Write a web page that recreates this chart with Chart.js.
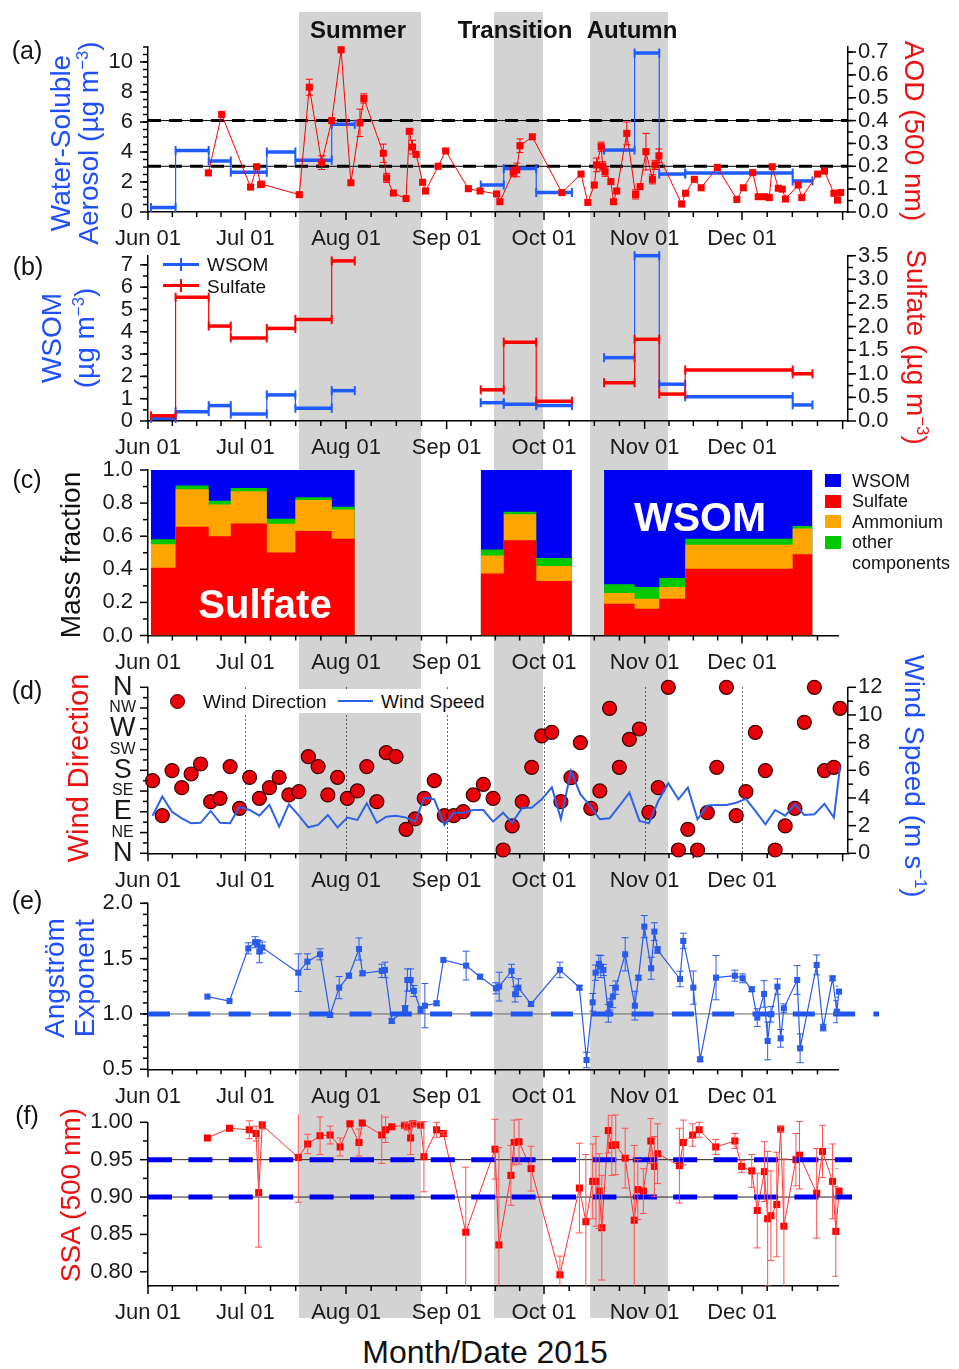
<!DOCTYPE html>
<html>
<head>
<meta charset="utf-8">
<script src="https://cdn.jsdelivr.net/npm/chart.js@4.4.1/dist/chart.umd.min.js"></script>
<style>
body { margin: 0; background: #fff; }
#fig { position: relative; width: 959px; height: 1369px; background: #fff; overflow: hidden;
       font-family: "Liberation Sans", Arial, sans-serif; color: #111; }
#fig canvas { position: absolute; left: 0; }
.t { position: absolute; white-space: nowrap; z-index: 5; line-height: 1; }
.c { transform: translate(-50%, -50%); }
.l90 { transform: translate(-50%, -50%) rotate(-90deg); text-align: center; }
.r90 { transform: translate(-50%, -50%) rotate(90deg); text-align: center; }
.ml { transform: translateY(-50%); }
sup { font-size: 0.6em; vertical-align: 0.6em; line-height: 0; }
.blue { color: #1f4fff; }
.red { color: #ee1111; }
.box { position: absolute; z-index: 4; }
</style>
</head>
<body>
<div id="fig">
  <!-- panel letters -->
  <div class="t c" style="left:27px;top:50px;font-size:25px">(a)</div>
  <div class="t c" style="left:28px;top:266px;font-size:25px">(b)</div>
  <div class="t c" style="left:27px;top:479px;font-size:25px">(c)</div>
  <div class="t c" style="left:27px;top:690px;font-size:25px">(d)</div>
  <div class="t c" style="left:27px;top:900px;font-size:25px">(e)</div>
  <div class="t c" style="left:27px;top:1115px;font-size:25px">(f)</div>

  <!-- seasons -->
  <div class="t c" style="left:358px;top:30px;font-size:24px;font-weight:bold">Summer</div>
  <div class="t c" style="left:515px;top:30px;font-size:24px;font-weight:bold">Transition</div>
  <div class="t c" style="left:632px;top:30px;font-size:24px;font-weight:bold">Autumn</div>

  <!-- axis titles -->
  <div class="t l90 blue" style="left:75px;top:143px;font-size:28px;line-height:28px">Water-Soluble<br>Aerosol (µg m<sup>−3</sup>)</div>
  <div class="t r90 red" style="left:914px;top:131px;font-size:28px">AOD (500 nm)</div>
  <div class="t l90 blue" style="left:68px;top:338px;font-size:28px;line-height:33px">WSOM<br>(µg m<sup>−3</sup>)</div>
  <div class="t r90 red" style="left:916px;top:347px;font-size:28px">Sulfate (µg m<sup>−3</sup>)</div>
  <div class="t l90" style="left:71px;top:555px;font-size:28px">Mass fraction</div>
  <div class="t l90 red" style="left:78px;top:768px;font-size:29px">Wind Direction</div>
  <div class="t r90 blue" style="left:914px;top:776px;font-size:28px">Wind Speed (m s<sup>−1</sup>)</div>
  <div class="t l90 blue" style="left:70px;top:978px;font-size:28px;line-height:30px">Angström<br>Exponent</div>
  <div class="t l90 red" style="left:71px;top:1195px;font-size:28px">SSA (500 nm)</div>
  <div class="t c" style="left:485px;top:1352px;font-size:32px">Month/Date 2015</div>

  <!-- legend (b) -->
  <div class="box" style="left:163px;top:263px;width:36px;height:3px;background:#1f5bff"></div>
  <div class="box" style="left:180px;top:258px;width:2px;height:13px;background:#1f5bff"></div>
  <div class="t ml" style="left:207px;top:264px;font-size:19px">WSOM</div>
  <div class="box" style="left:163px;top:284px;width:36px;height:3px;background:#ff0000"></div>
  <div class="box" style="left:180px;top:279px;width:2px;height:13px;background:#ff0000"></div>
  <div class="t ml" style="left:207px;top:286px;font-size:19px">Sulfate</div>

  <!-- legend (c) -->
  <div class="box" style="left:825px;top:474px;width:16px;height:13px;background:#0000f5"></div>
  <div class="t ml" style="left:852px;top:481px;font-size:18px">WSOM</div>
  <div class="box" style="left:825px;top:495px;width:16px;height:13px;background:#ff0000"></div>
  <div class="t ml" style="left:852px;top:501px;font-size:18px">Sulfate</div>
  <div class="box" style="left:825px;top:515px;width:16px;height:13px;background:#ffa500"></div>
  <div class="t ml" style="left:852px;top:522px;font-size:18px">Ammonium</div>
  <div class="box" style="left:825px;top:536px;width:16px;height:13px;background:#00c800"></div>
  <div class="t ml" style="left:852px;top:542px;font-size:18px">other</div>
  <div class="t ml" style="left:852px;top:563px;font-size:18px">components</div>
  <div class="t c" style="left:265px;top:604px;font-size:40px;font-weight:bold;color:#fff">Sulfate</div>
  <div class="t c" style="left:700px;top:517px;font-size:41px;font-weight:bold;color:#fff">WSOM</div>

  <!-- legend (d) -->
  <div class="box" style="left:160px;top:689px;width:333px;height:24px;background:#fff"></div>
  <div class="box" style="left:170px;top:694px;width:13px;height:13px;border-radius:50%;background:#e8000b;border:1px solid #400;z-index:5"></div>
  <div class="t ml" style="left:203px;top:701px;font-size:19px">Wind Direction</div>
  <div class="box" style="left:338px;top:700px;width:35px;height:2px;background:#2e62e6;z-index:5"></div>
  <div class="t ml" style="left:381px;top:701px;font-size:19px">Wind Speed</div>
</div>

<script>
// ---- data (x values are days since Jun 01 2015) ----
const monthLabels = ['Jun 01', 'Jul 01', 'Aug 01', 'Sep 01', 'Oct 01', 'Nov 01', 'Dec 01'];
const monthStartDays = [0, 30, 61, 92, 122, 153, 183, 214];

const seasonStart = [46.5, 106.6, 136.2];
const seasonEnd = [84.1, 121.7, 160.2];

// filter sampling periods
const periodStart = [0.9, 8.5, 18.7, 25.5, 36.6, 45.4, 56.6, 102.5, 109.6, 119.6, 140.5, 149.9, 157.5, 165.5, 198.6];
const periodEnd   = [8.5, 18.7, 25.5, 36.6, 45.4, 56.6, 63.7, 109.6, 119.6, 130.6, 149.9, 157.5, 165.5, 198.6, 204.7];

// (a)
const wsaTotal = [0.3, 4.1, 3.4, 2.65, 4.0, 3.45, 5.85, 1.8, 2.9, 1.3, 4.13, 10.6, 2.53, 2.6, 2.07];
const aodDays = [18.6, 22.7, 31.6, 33.5, 34.7, 35.0, 46.6, 49.7, 53.5, 56.6, 59.5, 62.5, 65.3, 66.5, 72.5, 73.5, 75.6, 79.5, 80.5, 81.5,
  82.6, 84.6, 85.5, 89.4, 91.7, 98.7, 102.3, 107.4, 108.4, 112.5, 113.6, 114.6, 118.4, 127.5, 133.4, 135.5, 137.5, 138.2, 139.6, 140.1,
  140.8, 142.6, 143.4, 144.4, 147.5, 150.2, 151.6, 153.4, 155.4, 156.2, 157.4, 164.4, 165.6, 168.3, 170.4, 175.4, 181.4, 183.4, 186.3, 188,
  190, 191.4, 192.3, 194.2, 195.4, 196.4, 200.3, 201.4, 206.3, 208.4, 211.3, 212.4, 213.4];
const aodVals = [0.171, 0.427, 0.109, 0.198, 0.12, 0.122, 0.076, 0.546, 0.216, 0.40, 0.71, 0.128, 0.39, 0.497, 0.257, 0.149, 0.083, 0.059, 0.353, 0.284,
  0.252, 0.13, 0.092, 0.2, 0.267, 0.102, 0.092, 0.079, 0.045, 0.174, 0.184, 0.29, 0.329, 0.085, 0.166, 0.042, 0.118, 0.206, 0.286, 0.2,
  0.176, 0.133, 0.045, 0.092, 0.344, 0.077, 0.111, 0.264, 0.143, 0.206, 0.246, 0.035, 0.082, 0.143, 0.106, 0.195, 0.055, 0.106, 0.172, 0.067,
  0.067, 0.063, 0.198, 0.104, 0.1, 0.057, 0.118, 0.063, 0.166, 0.179, 0.082, 0.052, 0.085];
const aodErr = [0, 0, 0, 0, 0, 0, 0, 0.035, 0.03, 0, 0, 0, 0.06, 0.02, 0.04, 0.02, 0, 0, 0.01, 0.03,
  0, 0, 0, 0, 0, 0, 0, 0, 0, 0.02, 0.03, 0.03, 0, 0, 0, 0, 0, 0.03, 0.02, 0.02,
  0.02, 0, 0, 0, 0.05, 0.02, 0, 0.08, 0.02, 0.02, 0.03, 0, 0, 0, 0, 0, 0, 0, 0, 0,
  0, 0, 0, 0, 0, 0, 0, 0, 0, 0, 0, 0, 0];
const aodRefs = [0.2, 0.4];

// (b)
const wsomConc = [0.12, 0.42, 0.69, 0.31, 1.17, 0.57, 1.36, 0.82, 0.75, 0.69, 2.84, 7.41, 1.65, 1.09, 0.72];
const sulfateConc = [0.11, 2.62, 2.01, 1.76, 1.96, 2.15, 3.39, 0.66, 1.67, 0.42, 0.81, 1.73, 0.57, 1.08, 1.0];

// (c)
const fracSulfate = [0.41, 0.657, 0.6, 0.677, 0.501, 0.632, 0.584, 0.374, 0.576, 0.329, 0.192, 0.162, 0.222, 0.404, 0.491];
const fracAmmonium = [0.142, 0.226, 0.192, 0.194, 0.174, 0.186, 0.178, 0.109, 0.157, 0.091, 0.065, 0.06, 0.071, 0.145, 0.155];
const fracOther = [0.03, 0.024, 0.022, 0.02, 0.03, 0.018, 0.016, 0.036, 0.014, 0.049, 0.052, 0.071, 0.054, 0.035, 0.015];
const fracWsom = [0.418, 0.093, 0.186, 0.109, 0.295, 0.164, 0.222, 0.481, 0.253, 0.531, 0.691, 0.707, 0.653, 0.416, 0.339];

// (d)
const dirLabels = ['N', 'NE', 'E', 'SE', 'S', 'SW', 'W', 'NW', 'N'];
const windDays = [1.4, 4.4, 7.4, 10.4, 13.3, 16.2, 19.3, 22.2, 25.3, 28.2, 31.3, 34.3, 37.4, 40.4, 43.4, 46.5, 49.4, 52.4, 55.4, 58.4,
  61.4, 64.5, 67.4, 70.5, 73.4, 76.4, 79.5, 82.3, 85.1, 88.2, 91.3, 94.2, 97.1, 100.2, 103.3, 106.3, 109.4, 112.2, 115.3, 118.2,
  121.3, 124.4, 127.2, 130.3, 133.2, 136.4, 139.2, 142.2, 145.2, 148.3, 151.4, 154.3, 157.2, 160.3, 163.4, 166.3, 169.3, 172.3, 175.2, 178.2,
  181.2, 184.2, 187.1, 190.2, 193.2, 196.3, 199.3, 202.2, 205.3, 208.4, 211.3, 213.2];
const windSpeed = [2.72, 4.1, 3.0, 2.53, 2.17, 2.2, 3.06, 2.2, 2.17, 3.37, 3.13, 2.72, 3.5, 1.93, 3.54, 2.72, 1.88, 2.05, 2.77, 1.86,
  2.58, 2.41, 3.61, 2.2, 2.65, 2.72, 2.58, 2.29, 4.02, 3.9, 2.05, 2.94, 2.94, 3.13, 3.13, 2.29, 2.94, 2.2, 3.3, 3.3,
  3.9, 4.77, 2.48, 5.95, 4.27, 3.37, 2.46, 2.53, 3.42, 4.39, 2.34, 2.17, 3.78, 5.06, 3.9, 4.75, 2.46, 3.45, 3.49, 3.49,
  3.66, 3.93, 3.06, 2.1, 3.13, 2.72, 3.54, 2.77, 2.82, 3.57, 2.58, 6.27];
const windDir = [157.6, 81.7, 179.3, 142.4, 172, 193.7, 112, 119.3, 188, 97.6, 164.8, 119.3, 142.4, 164.8, 126.5, 133.7, 209.6, 188, 126.5, 164.8,
  119.3, 135.2, 188, 112, 218.3, 209.6, 52, 74.5, 119.3, 157.6, 81.7, 81.7, 90.4, 126.5, 149.6, 119.3, 7.2, 59.3, 112, 186.5,
  254.5, 262.4, 112, 164.1, 240, 97.6, 135.2, 314.5, 186.5, 247.2, 269.6, 88.9, 142.4, 360, 7.2, 52, 7.2, 88.2, 186.5, 360,
  81.7, 133.7, 262.4, 179.3, 7.2, 59.3, 97.6, 284.1, 360, 179.3, 186.5, 314.5];

// (e)
const angDays = [18.3, 25.1, 30.9, 33, 33.7, 34.3, 35.2, 46.3, 49.1, 53, 56.1, 58.9, 61.9, 65, 66.1, 72, 73, 75.1, 79.2, 79.9,
  80.9, 81.9, 84, 85.3, 88.9, 91, 98, 102.3, 107.2, 108.2, 112, 113.1, 114.1, 118, 126.9, 132.9, 135.1, 137, 137.9, 138.9,
  139.5, 140.3, 141.8, 142.3, 143.2, 144.1, 147, 150, 151.1, 152.9, 155, 156, 157, 163.9, 164.9, 168, 170.1, 175, 180.8, 183.2,
  186, 187.7, 189.8, 190.9, 191.9, 193.9, 194.9, 195.9, 200, 200.9, 206, 208, 210.9, 212.2, 212.9];
const angVals = [1.157, 1.117, 1.593, 1.648, 1.64, 1.563, 1.6, 1.373, 1.473, 1.539, 0.991, 1.238, 1.346, 1.587, 1.367, 1.39, 1.398, 0.937, 1.045, 1.307,
  1.307, 1.208, 1.036, 1.075, 1.096, 1.488, 1.437, 1.337, 1.232, 1.247, 1.389, 1.178, 1.238, 1.09, 1.398, 1.238, 0.584, 1.105, 1.373, 1.452,
  1.428, 1.398, 1.006, 1.087, 1.157, 1.238, 1.539, 1.075, 1.328, 1.789, 1.413, 1.744, 1.578, 1.316, 1.66, 1.238, 0.59, 1.328, 1.346, 1.322,
  1.223, 0.967, 1.181, 0.756, 0.997, 1.247, 0.78, 1.051, 1.307, 0.69, 1.443, 0.877, 1.322, 1.021, 1.202];
const angErr = [0, 0, 0.05, 0.05, 0.03, 0.1, 0.05, 0.17, 0.07, 0.05, 0.02, 0.1, 0.02, 0.1, 0.02, 0.06, 0.07, 0.02, 0.03, 0.1,
  0.1, 0.05, 0.03, 0.2, 0.02, 0, 0.13, 0.02, 0.05, 0.13, 0.06, 0.07, 0.08, 0.02, 0.07, 0.02, 0.07, 0.08, 0.07, 0.08,
  0.1, 0.05, 0.08, 0.05, 0.1, 0.06, 0.15, 0.13, 0.02, 0.1, 0.1, 0.08, 0.03, 0.07, 0.07, 0.15, 0.02, 0.2, 0.05, 0.04,
  0.02, 0.08, 0.12, 0.17, 0.07, 0.07, 0.08, 0.04, 0.13, 0.13, 0.09, 0.03, 0.02, 0.1, 0.05];
const angRefs = [1.0];

// (f)
const ssaDays = [18.3, 25.1, 31.2, 33.3, 34.1, 35.2, 46.3, 49.2, 53, 56.1, 59.2, 62.2, 65, 66, 72, 73.2, 75.1, 79, 79.9, 80.9,
  81.6, 84, 85, 88.9, 91, 97.9, 106.9, 108.1, 111.8, 112.8, 114.3, 118, 126.9, 132.9, 134.9, 137, 138, 139, 139.8, 141.8,
  142.9, 144.1, 147, 149.8, 150.9, 152.6, 154.9, 156, 157, 163.7, 164.9, 167.8, 169.8, 174.9, 180.8, 182.9, 186, 187.7, 189.9, 190.9,
  191.9, 193.7, 194.9, 195.9, 199.6, 200.7, 206, 207.8, 210.9, 211.9, 212.9];
const ssaVals = [0.979, 0.992, 0.99, 0.985, 0.906, 0.996, 0.953, 0.971, 0.982, 0.983, 0.967, 0.998, 0.973, 0.999, 0.983, 0.99, 0.994, 0.996, 0.994, 0.979,
  0.998, 0.996, 0.954, 0.99, 0.985, 0.853, 0.964, 0.836, 0.929, 0.973, 0.974, 0.938, 0.796, 0.912, 0.867, 0.921, 0.921, 0.908, 0.859, 0.989,
  0.969, 0.97, 0.952, 0.869, 0.91, 0.908, 0.975, 0.941, 0.958, 0.942, 0.973, 0.983, 0.99, 0.967, 0.975, 0.941, 0.935, 0.882, 0.934, 0.871,
  0.875, 0.89, 0.991, 0.861, 0.95, 0.956, 0.905, 0.961, 0.921, 0.854, 0.908];
const ssaErr = [0, 0, 0.012, 0.01, 0.073, 0.005, 0.06, 0.013, 0.025, 0.012, 0.012, 0, 0.018, 0, 0.038, 0.017, 0, 0.004, 0.004, 0.022,
  0.003, 0.004, 0.047, 0.01, 0.002, 0.087, 0.04, 0.13, 0.04, 0.03, 0.03, 0.03, 0.025, 0.06, 0.09, 0.05, 0.06, 0.05, 0.07, 0.03,
  0.04, 0.04, 0.04, 0.1, 0.04, 0.03, 0.03, 0.04, 0.04, 0.05, 0.03, 0.015, 0.01, 0.01, 0.01, 0.008, 0.022, 0.05, 0.04, 0.09,
  0.06, 0.07, 0.003, 0.09, 0.035, 0.045, 0.06, 0.035, 0.05, 0.06, 0.03];
const ssaRefs = [0.9, 0.95];

// ---- drawing ----
const FONT = '"Liberation Sans", Arial, sans-serif';
Chart.defaults.font.family = FONT;
Chart.defaults.color = '#1a1a1a';

const BLUE = '#1f5bff';
const RED = '#ff0000';
const GRAY = '#d3d3d3';
const XMAX_WIDE = 215.65;   // panels with a right axis
const XMAX_NARROW = 212.57; // panels without

const fig = document.getElementById('fig');

// later panels go underneath earlier ones so overlapping label strips stay visible
function addCanvas(top, h) {
    const c = document.createElement('canvas');
    c.width = 959;
    c.height = h;
    c.style.top = top + 'px';
    fig.insertBefore(c, fig.firstChild);
    return c;
}

function range(a, b, step) {
    const out = [];
    for (let v = a; v <= b + 1e-9; v += step) out.push(+v.toFixed(4));
    return out;
}

const xMinor = [];
for (let m = 0; m < monthStartDays.length - 1; m++) {
    const s = monthStartDays[m], len = monthStartDays[m + 1] - s;
    for (let k = 1; k < 4; k++) xMinor.push(s + k * len / 4);
}

// horizontal segments per sampling period, gaps between blocks
function stepSeries(vals) {
    const pts = [];
    vals.forEach((v, i) => {
        if (i > 0 && periodStart[i] > periodEnd[i - 1]) pts.push({x: periodEnd[i - 1], y: null});
        pts.push({x: periodStart[i], y: v}, {x: periodEnd[i], y: v});
    });
    return pts;
}

function xy(xs, ys) {
    return xs.map((x, i) => ({x: x, y: ys[i]}));
}

function stepDataset(vals, axis, color) {
    return {
        data: stepSeries(vals), yAxisID: axis, borderColor: color, backgroundColor: color,
        borderWidth: 1.2, spanGaps: false, clip: false,
        segment: {borderWidth: c => (c.p0.parsed.y === c.p1.parsed.y ? 3.5 : 1.2)},
        pointStyle: 'line', pointRotation: 90, pointRadius: 4.5, pointBorderWidth: 2, pointBorderColor: color
    };
}

function refLine(v, axis, x1, color, width, dash) {
    return {
        data: [{x: 0, y: v}, {x: x1, y: v}], yAxisID: axis, borderColor: color, borderWidth: width,
        borderDash: dash || [], pointRadius: 0, clip: false
    };
}

function xAxis(max, h) {
    return {
        type: 'linear', min: 0, max: max,
        afterBuildTicks: ax => { ax.ticks = monthStartDays.filter(d => d <= max).map(v => ({value: v})); },
        afterFit: ax => { ax.height = h; ax.paddingLeft = 0; ax.paddingRight = 0; },
        grid: {display: false, drawTicks: false},
        border: {display: true, color: '#000', width: 1.5},
        ticks: {autoSkip: false, maxRotation: 0, padding: 14, font: {size: 22},
            callback: v => monthLabels[monthStartDays.indexOf(v)] || ''}
    };
}

function yAxis(position, min, max, majors, fmt, extraTicks) {
    return {
        type: 'linear', position: position, min: min, max: max,
        afterBuildTicks: ax => { ax.ticks = majors.map(v => ({value: v})); },
        afterFit: ax => { ax.width = position === 'left' ? 148 : 111; ax.paddingTop = 0; ax.paddingBottom = 0; },
        grid: {display: false, drawTicks: false},
        border: {display: true, color: '#000', width: 1.5},
        ticks: Object.assign({autoSkip: false, padding: position === 'left' ? 15 : 10, font: {size: 22}, callback: fmt}, extraTicks || {})
    };
}

// gray season bands, dotted month lines, error bars, major/minor tick marks
function panelPlugin(cfg) {
    return {
        id: 'panel',
        beforeDraw(chart) {
            const {ctx} = chart;
            const x = chart.scales.x;
            ctx.save();
            ctx.fillStyle = GRAY;
            seasonStart.forEach((s, i) => {
                const x1 = x.getPixelForValue(s), x2 = x.getPixelForValue(seasonEnd[i]);
                ctx.fillRect(x1, 0, x2 - x1, cfg.bandBottom || chart.height);
            });
            ctx.restore();
        },
        beforeDatasetsDraw(chart) {
            if (!cfg.monthLines) return;
            const {ctx, chartArea} = chart;
            const x = chart.scales.x;
            ctx.save();
            ctx.strokeStyle = '#333';
            ctx.lineWidth = 1;
            ctx.setLineDash([1.5, 2.5]);
            monthStartDays.slice(1, -1).forEach(d => {
                const px = Math.round(x.getPixelForValue(d)) + 0.5;
                ctx.beginPath();
                ctx.moveTo(px, chartArea.top);
                ctx.lineTo(px, chartArea.bottom);
                ctx.stroke();
            });
            ctx.restore();
        },
        afterDatasetsDraw(chart) {
            const {ctx, chartArea} = chart;
            chart.data.datasets.forEach((ds, i) => {
                if (!ds.errors) return;
                const meta = chart.getDatasetMeta(i);
                const xs = chart.scales[meta.xAxisID], ys = chart.scales[meta.yAxisID];
                ctx.save();
                ctx.beginPath();
                ctx.rect(chartArea.left, chartArea.top - 8, chartArea.right - chartArea.left, chartArea.bottom - chartArea.top + 8);
                ctx.clip();
                ctx.strokeStyle = ds.errorColor || ds.borderColor;
                ctx.lineWidth = 1;
                ds.data.forEach((p, j) => {
                    const e = ds.errors[j];
                    if (!e) return;
                    const px = xs.getPixelForValue(p.x);
                    const y1 = ys.getPixelForValue(p.y - e), y2 = ys.getPixelForValue(p.y + e);
                    ctx.beginPath();
                    ctx.moveTo(px, y1); ctx.lineTo(px, y2);
                    ctx.moveTo(px - 3.5, y1); ctx.lineTo(px + 3.5, y1);
                    ctx.moveTo(px - 3.5, y2); ctx.lineTo(px + 3.5, y2);
                    ctx.stroke();
                });
                ctx.restore();
            });
        },
        afterDraw(chart) {
            const {ctx} = chart;
            ctx.save();
            ctx.strokeStyle = '#000';
            ctx.lineWidth = 1.5;
            cfg.ticks.forEach(t => {
                const s = chart.scales[t.id];
                const draw = (vals, len) => vals.forEach(v => {
                    if (v < s.min - 1e-9 || v > s.max + 1e-9) return;
                    const p = s.getPixelForValue(v);
                    ctx.beginPath();
                    if (s.isHorizontal()) { ctx.moveTo(p, s.top); ctx.lineTo(p, s.top + len); }
                    else if (s.position === 'left') { ctx.moveTo(s.right, p); ctx.lineTo(s.right - len, p); }
                    else { ctx.moveTo(s.left, p); ctx.lineTo(s.left + len, p); }
                    ctx.stroke();
                });
                draw(t.major, 8);
                draw(t.minor, 5);
            });
            ctx.restore();
        }
    };
}

function baseOptions(padTop, padRight) {
    return {
        responsive: false, animation: false, devicePixelRatio: 1, events: [],
        layout: {padding: {top: padTop, right: padRight, left: 0, bottom: 0}},
        plugins: {legend: {display: false}, tooltip: {enabled: false}},
        elements: {line: {tension: 0}}
    };
}

const xTicks = {id: 'x', major: monthStartDays, minor: xMinor};

// ---------- (a) ----------
{
    const opts = baseOptions(35, 0);
    opts.scales = {
        x: xAxis(XMAX_WIDE, 39),
        y: yAxis('left', 0, 11, range(0, 10, 2), v => String(v)),
        y1: yAxis('right', 0, 0.722, range(0, 0.7, 0.1), v => v.toFixed(1))
    };
    new Chart(addCanvas(12, 239), {
        type: 'line',
        data: {datasets: [
            {data: xy(aodDays, aodVals), yAxisID: 'y1', errors: aodErr, borderColor: RED, borderWidth: 1,
             pointStyle: 'rect', pointRadius: 5, pointBackgroundColor: RED, pointBorderWidth: 0, clip: false},
            stepDataset(wsaTotal, 'y', BLUE),
            ...aodRefs.map(v => refLine(v, 'y1', XMAX_WIDE, '#000', 3, [13, 8])),
            ...aodRefs.map(v => refLine(v, 'y1', XMAX_WIDE, '#000', 1))
        ]},
        options: opts,
        plugins: [panelPlugin({ticks: [xTicks,
            {id: 'y', major: range(0, 10, 2), minor: range(0.5, 11, 0.5)},
            {id: 'y1', major: range(0, 0.7, 0.1), minor: range(0.05, 0.7, 0.05)}]})]
    });
}

// ---------- (b) ----------
{
    const opts = baseOptions(14.7, 0);
    opts.scales = {
        x: xAxis(XMAX_WIDE, 37),
        y: yAxis('left', 0, 7.41, range(0, 7, 1), v => String(v)),
        y1: yAxis('right', 0, 3.5, range(0, 3.5, 0.5), v => v.toFixed(1))
    };
    new Chart(addCanvas(241, 217), {
        type: 'line',
        data: {datasets: [
            stepDataset(sulfateConc, 'y1', RED),
            stepDataset(wsomConc, 'y', BLUE)
        ]},
        options: opts,
        plugins: [panelPlugin({ticks: [xTicks,
            {id: 'y', major: range(0, 7, 1), minor: range(0.5, 7, 0.5)},
            {id: 'y1', major: range(0, 3.5, 0.5), minor: range(0.25, 3.5, 0.25)}]})]
    });
}

// ---------- (c) ----------
{
    const cumS = fracSulfate;
    const cumA = cumS.map((v, i) => v + fracAmmonium[i]);
    const cumO = cumA.map((v, i) => v + fracOther[i]);
    const cumW = cumO.map((v, i) => v + fracWsom[i]);
    const layer = (vals, color, order) => ({
        data: stepSeries(vals), borderWidth: 0, borderColor: color, backgroundColor: color,
        fill: 'origin', pointRadius: 0, spanGaps: false, order: order
    });
    const opts = baseOptions(12, 121);
    opts.scales = {
        x: xAxis(XMAX_NARROW, 38.5),
        y: yAxis('left', 0, 1, range(0, 1, 0.2), v => v.toFixed(1))
    };
    new Chart(addCanvas(458, 216), {
        type: 'line',
        data: {datasets: [
            layer(cumS, '#ff0000', 1),
            layer(cumA, '#ffa500', 2),
            layer(cumO, '#00c800', 3),
            layer(cumW, '#0000f5', 4)
        ]},
        options: opts,
        plugins: [panelPlugin({ticks: [xTicks, {id: 'y', major: range(0, 1, 0.2), minor: range(0.1, 1, 0.2)}]})]
    });
}

// ---------- (d) ----------
{
    const opts = baseOptions(13.3, 0);
    opts.scales = {
        x: xAxis(XMAX_WIDE, 37.7),
        y: yAxis('left', 0, 360, range(0, 360, 45), (v, i) => dirLabels[i], {
            crossAlign: 'center', padding: 12,
            font: c => ({size: (c.tick && c.tick.value % 90 === 0) ? 27 : 16})
        }),
        y1: yAxis('right', 0, 12, range(0, 12, 2), v => String(v))
    };
    new Chart(addCanvas(674, 217), {
        type: 'line',
        data: {datasets: [
            {data: xy(windDays, windSpeed), yAxisID: 'y1', borderColor: '#2e62e6', borderWidth: 2, pointRadius: 0},
            {data: xy(windDays, windDir), yAxisID: 'y', showLine: false, pointRadius: 7,
             pointBackgroundColor: '#e8000b', pointBorderColor: '#3a0000', pointBorderWidth: 1.2, clip: false}
        ]},
        options: opts,
        plugins: [panelPlugin({monthLines: true, ticks: [xTicks,
            {id: 'y', major: range(0, 360, 45), minor: range(22.5, 360, 45)},
            {id: 'y1', major: range(0, 12, 2), minor: range(1, 12, 2)}]})]
    });
}

// ---------- (e) ----------
{
    const EBLUE = '#2a5bea';
    const opts = baseOptions(12.3, 121);
    opts.scales = {
        x: xAxis(XMAX_NARROW, 38.7),
        y: yAxis('left', 0.5, 2.0, range(0.5, 2.0, 0.5), v => v.toFixed(1))
    };
    new Chart(addCanvas(891, 217), {
        type: 'line',
        data: {datasets: [
            {data: xy(angDays, angVals), errors: angErr, borderColor: EBLUE, borderWidth: 1.2,
             pointStyle: 'rect', pointRadius: 4.3, pointBackgroundColor: EBLUE, pointBorderWidth: 0, clip: false},
            ...angRefs.map(v => refLine(v, 'y', 225.2, '#1e55f0', 5, [22, 18.3])),
            ...angRefs.map(v => refLine(v, 'y', XMAX_NARROW, '#666', 1))
        ]},
        options: opts,
        plugins: [panelPlugin({ticks: [xTicks, {id: 'y', major: range(0.5, 2.0, 0.5), minor: range(0.6, 2.0, 0.1)}]})]
    });
}

// ---------- (f) ----------
{
    const opts = baseOptions(14.3, 121);
    opts.scales = {
        x: xAxis(XMAX_NARROW, 44),
        y: yAxis('left', 0.781, 1.0, range(0.8, 1.0, 0.05), v => v.toFixed(2))
    };
    new Chart(addCanvas(1108, 222), {
        type: 'line',
        data: {datasets: [
            ...ssaRefs.map(v => refLine(v, 'y', 216.9, '#0000f0', 5, [24, 16.4])),
            {data: xy(ssaDays, ssaVals), errors: ssaErr, errorColor: '#ff5050', borderColor: '#ff3030', borderWidth: 1,
             pointStyle: 'rect', pointRadius: 5, pointBackgroundColor: RED, pointBorderWidth: 0, clip: false},
            ...ssaRefs.map(v => refLine(v, 'y', XMAX_NARROW, '#222', 1))
        ]},
        options: opts,
        plugins: [panelPlugin({bandBottom: 210, ticks: [xTicks, {id: 'y', major: range(0.8, 1.0, 0.05), minor: range(0.825, 1.0, 0.05)}]})]
    });
}
</script>
</body>
</html>
